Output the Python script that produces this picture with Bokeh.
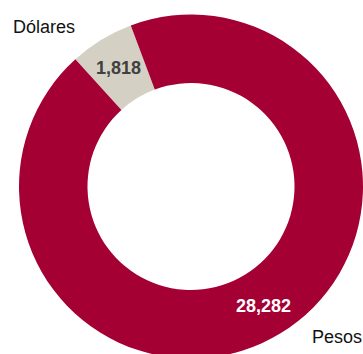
import math
from bokeh.plotting import figure
from bokeh.models import ColumnDataSource, Range1d
from bokeh.core.properties import value
from bokeh.embed import file_html
from bokeh.resources import INLINE

# Deposit composition by currency
categories = ["Dólares", "Pesos"]
amounts = [1818, 28282]
colors = ["#D4D1C4", "#A50034"]
value_label_colors = ["#404040", "#FFFFFF"]

# Slices run counter-clockwise starting from this angle (degrees)
START_DEG = 110.5
INNER_R = 103.5
OUTER_R = 172.0

total = sum(amounts)
starts, ends, mids = [], [], []
a = math.radians(START_DEG)
for v in amounts:
    span = 2 * math.pi * v / total
    starts.append(a)
    ends.append(a + span)
    mids.append(a + span / 2)
    a += span

ring_mid = (INNER_R + OUTER_R) / 2 + 1.5
source = ColumnDataSource(dict(
    cat=categories,
    amt=amounts,
    start=starts,
    end=ends,
    color=colors,
    lx=[ring_mid * math.cos(m) for m in mids],
    ly=[ring_mid * math.sin(m) for m in mids],
    vtext=[f"{v:,}" for v in amounts],
    vcolor=value_label_colors,
))

p = figure(width=363, height=354, output_backend="svg", toolbar_location=None,
           x_range=Range1d(-190.5, 172.5), y_range=Range1d(-168, 186),
           min_border=0, outline_line_color=None, background_fill_color="white")
p.axis.visible = False
p.grid.visible = False

p.annular_wedge(x=0, y=0, inner_radius=INNER_R, outer_radius=OUTER_R,
                start_angle="start", end_angle="end", direction="anticlock",
                fill_color="color", line_color=None, source=source)

# Values inside the ring
p.text(x="lx", y="ly", text="vtext", text_color="vcolor", source=source,
       text_font=value("Liberation Sans"), text_font_style="bold",
       text_font_size="18px", text_align="center", text_baseline="middle")

# Category names outside the ring
out_r = 192
for i, name in enumerate(categories):
    ax = out_r * math.cos(mids[i])
    ay = out_r * math.sin(mids[i])
    left_side = math.cos(mids[i]) < 0
    p.text(x=[ax], y=[ay], text=[name],
           x_offset=-16 if left_side else 21, y_offset=4 if left_side else -13,
           text_color="#111111", text_font=value("Liberation Sans"),
           text_font_size="18px",
           text_align="right" if left_side else "left",
           text_baseline="middle")

open("out.html", "w").write(file_html(p, INLINE))
